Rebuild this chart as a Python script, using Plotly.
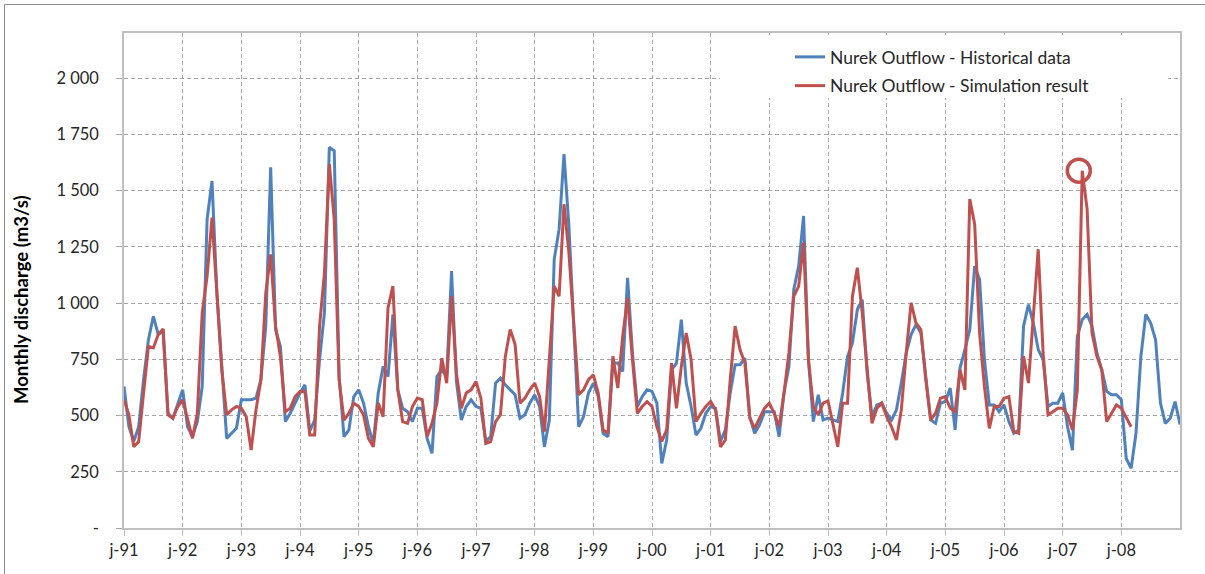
import plotly.graph_objects as go

# ---- data -------------------------------------------------------------
year_labels = ["j-91", "j-92", "j-93", "j-94", "j-95", "j-96", "j-97", "j-98", "j-99",
               "j-00", "j-01", "j-02", "j-03", "j-04", "j-05", "j-06", "j-07", "j-08"]

# Monthly values from Jan 1991 (month index 0)
historical = [
    629, 450, 385, 450, 659, 837, 941, 860, 874, 510, 488, 555,      # 1991
    614, 450, 406, 473, 629, 1372, 1543, 1045, 703, 398, 421, 443,   # 1992
    570, 570, 570, 577, 659, 897, 1603, 882, 807, 473, 510, 555,     # 1993
    600, 636, 430, 480, 748, 956, 1692, 1677, 673, 406, 436, 584,    # 1994
    614, 555, 450, 376, 600, 718, 673, 949, 614, 532, 517, 473,      # 1995
    532, 532, 398, 332, 673, 703, 673, 1142, 651, 480, 540, 570,     # 1996
    540, 532, 384, 406, 644, 666, 636, 614, 592, 488, 503, 555,      # 1997
    592, 540, 361, 480, 1194, 1328, 1662, 1343, 897, 450, 495, 600,  # 1998
    644, 584, 421, 406, 733, 733, 696, 1112, 778, 540, 584, 614,     # 1999
    607, 555, 287, 391, 703, 733, 926, 644, 540, 413, 443, 510,      # 2000
    540, 532, 384, 436, 600, 726, 726, 755, 495, 421, 458, 517,      # 2001
    517, 517, 406, 600, 718, 1060, 1164, 1387, 748, 473, 592, 480,   # 2002
    488, 480, 473, 600, 763, 822, 971, 1015, 688, 495, 547, 555,     # 2003
    510, 480, 525, 644, 778, 860, 904, 867, 673, 480, 465, 555,      # 2004
    562, 622, 436, 711, 793, 882, 1164, 1105, 748, 547, 547, 517,    # 2005
    547, 473, 421, 436, 897, 993, 911, 793, 748, 540, 555, 555,      # 2006
    600, 450, 346, 852, 926, 949, 897, 778, 703, 607, 592, 592,      # 2007
    570, 309, 265, 421, 763, 949, 911, 837, 555, 465, 488, 562,      # 2008
    460,                                                              # 2009
]

simulation = [
    570, 503, 361, 384, 600, 807, 800, 860, 885, 503, 488, 540,      # 1991
    570, 480, 398, 510, 956, 1120, 1380, 1045, 703, 503, 525, 540,   # 1992
    532, 495, 346, 525, 659, 1045, 1216, 897, 760, 517, 532, 584,    # 1993
    607, 607, 413, 413, 897, 1134, 1618, 1372, 659, 480, 510, 555,   # 1994
    540, 503, 398, 361, 555, 495, 978, 1075, 614, 473, 465, 540,     # 1995
    577, 570, 406, 465, 555, 755, 644, 1030, 688, 532, 600, 614,     # 1996
    651, 577, 376, 384, 473, 503, 763, 882, 815, 555, 577, 614,      # 1997
    644, 584, 428, 748, 1075, 1030, 1439, 1224, 897, 592, 614, 659,  # 1998
    681, 600, 436, 421, 763, 622, 852, 1023, 748, 510, 540, 562,     # 1999
    540, 450, 385, 436, 733, 532, 718, 867, 748, 473, 510, 540,      # 2000
    562, 525, 361, 391, 659, 897, 793, 733, 488, 443, 488, 532,      # 2001
    555, 510, 450, 600, 778, 1030, 1075, 1268, 748, 540, 503, 555,   # 2002
    565, 465, 361, 555, 555, 1030, 1157, 956, 703, 465, 532, 555,    # 2003
    495, 450, 391, 525, 778, 1001, 911, 882, 659, 480, 510, 577,     # 2004
    584, 532, 517, 703, 614, 1462, 1350, 867, 629, 443, 540, 540,    # 2005
    577, 584, 430, 421, 763, 644, 941, 1239, 778, 503, 517, 532,     # 2006
    532, 503, 436, 614, 1588, 1417, 867, 763, 703, 473, 510, 547,    # 2007
    532, 488, 450,                                                    # 2008
]

highlight_year = "j-07"   # year whose simulated maximum is circled

y_tick_values = [0, 250, 500, 750, 1000, 1250, 1500, 1750, 2000]
y_tick_labels = ["-", "250", "500", "750", "1 000", "1 250", "1 500", "1 750", "2 000"]

# ---- figure -----------------------------------------------------------
BLUE = "#4F81BD"
RED = "#C0504D"
FONT = "Lato"
TXT = "#262626"

W, H = 1205, 574
L, R, T, B = 124, 25, 33, 46
pw, ph = W - L - R, H - T - B


def px_x(p):
    return (p - L) / pw


def px_y(p):
    return (H - B - p) / ph


fig = go.Figure()
fig.add_trace(go.Scatter(
    x=list(range(len(historical))), y=historical, mode="lines",
    name="Nurek Outflow - Historical data", legendgroup="h",
    line=dict(color=BLUE, width=3)))
fig.add_trace(go.Scatter(
    x=list(range(len(simulation))), y=simulation, mode="lines",
    name="Nurek Outflow - Simulation result", legendgroup="s",
    line=dict(color=RED, width=3)))

# highlight circle around the simulated maximum of the chosen year
y0 = 12 * year_labels.index(highlight_year)
year_months = range(y0, min(y0 + 12, len(simulation)))
peak_i = max(year_months, key=lambda i: simulation[i])
fig.add_trace(go.Scatter(
    x=[peak_i - 0.7], y=[simulation[peak_i]], mode="markers", showlegend=False,
    marker=dict(symbol="circle-open", size=23, color=RED, line=dict(width=3.5, color=RED)),
    hoverinfo="skip"))

grid = dict(gridcolor="#A6A6A6", gridwidth=1, griddash="4px,3px")
fig.update_xaxes(
    range=[0, 216], tickvals=[12 * i for i in range(len(year_labels))], ticktext=year_labels,
    showline=True, linecolor="#BFBFBF", linewidth=1.5, mirror=True,
    ticks="outside", ticklen=6, tickcolor="#BFBFBF",
    tickfont=dict(family=FONT, size=16.5, color=TXT), zeroline=False, **grid)
fig.update_yaxes(
    range=[0, 2200], tickvals=y_tick_values, ticktext=y_tick_labels,
    showline=True, linecolor="#BFBFBF", linewidth=1.5, mirror=True,
    ticks="outside", ticklen=6, tickcolor="#A6A6A6", ticklabelstandoff=14,
    tickfont=dict(family=FONT, size=16.5, color=TXT), zeroline=False, **grid)

fig.update_layout(
    width=W, height=H, margin=dict(l=L, r=R, t=T, b=B),
    paper_bgcolor="white", plot_bgcolor="white",
    font=dict(family=FONT, color=TXT),
    legend=dict(x=px_x(790), y=px_y(39), xanchor="left", yanchor="top",
                bgcolor="rgba(255,255,255,0)", font=dict(family=FONT, size=17.5, color=TXT),
                tracegroupgap=3, itemwidth=30),
    shapes=[
        dict(type="rect", xref="paper", yref="paper", layer="above",
             x0=px_x(720), x1=px_x(1168), y0=px_y(98), y1=px_y(34.5),
             fillcolor="white", line=dict(width=0)),
        dict(type="rect", xref="paper", yref="paper",
             x0=px_x(4.5), x1=px_x(1250), y0=px_y(620), y1=px_y(4.5),
             line=dict(color="#8C8C8C", width=1)),
    ],
    annotations=[
        dict(text="<b>Monthly discharge (m3/s)</b>", textangle=-90, xref="paper", yref="paper",
             x=px_x(21), y=px_y(300), showarrow=False, xanchor="center", yanchor="middle",
             font=dict(family=FONT, size=18.5, color="#000000")),
    ],
)

fig.write_html("out.html", config={"displayModeBar": False},
               post_script="document.body.style.margin='0px';")
